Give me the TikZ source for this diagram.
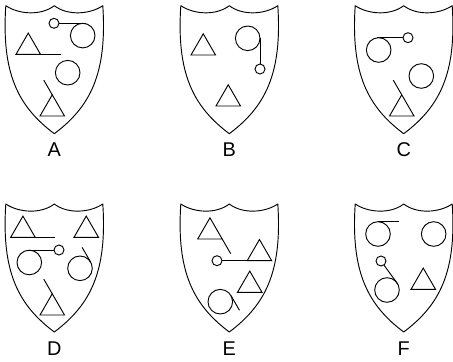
\documentclass[tikz,border=0pt]{standalone}
\usepackage{fontspec}
\setsansfont{Liberation Sans}

\begin{document}
\begin{tikzpicture}[x=0.03cm,y=-0.03cm,font=\sffamily\fontsize{17}{18}\selectfont,
 outline/.style={draw=black,line width=.8pt,line join=round},
 fig/.style={draw=black,line width=.8pt},
 tag/.style={inner sep=0pt,anchor=center}]
\path[use as bounding box] (0,0) rectangle (453,361);
% Shields and their letters
\foreach \x/\y/\lbl in {54.3/5.7/A,229.3/5.7/B,403.7/5.7/C,54.3/204/D,229.3/204/E,403.7/204/F} {
 \draw[outline,shift={(\x,\y)}] (-48.5,0) .. controls (-35,9) and (-13,10) .. (0,0)
   .. controls (13,10) and (35,9) .. (48.5,0)
   .. controls (53,68) and (36,101) .. (0,128)
   .. controls (-36,101) and (-53,68) .. cycle;
 \node[tag] (lab\lbl) at (\x,\y+144.3) {\lbl};
}

% A
\draw[fig] (54,23.3) circle[radius=5];
\draw[fig] (59,23.3) -- (86,23.3);
\draw[fig] (82.7,35.6) circle[radius=12.3];
\draw[fig] (16,54.3) -- ++(24.5,0) -- ++(-12.25,-21.2) -- cycle;
\draw[fig] (40.5,54.3) -- (61,54.3);
\draw[fig] (67.7,72.7) circle[radius=12.3];
\draw[fig] (40,116) -- ++(24.5,0) -- ++(-12.25,-21.2) -- cycle;
\draw[fig] (52.25,94.8) -- (43.75,80.1);

% B
\draw[fig] (191,55) -- ++(24.5,0) -- ++(-12.25,-21.2) -- cycle;
\draw[fig] (247.7,38.3) circle[radius=12.3];
\draw[fig] (260,38.3) -- (260,64);
\draw[fig] (260,69) circle[radius=5];
\draw[fig] (216,106) -- ++(24.5,0) -- ++(-12.25,-21.2) -- cycle;

% C
\draw[fig] (378.7,50) circle[radius=12.3];
\draw[fig] (377,37.7) -- (403,37.7);
\draw[fig] (408,37.7) circle[radius=5];
\draw[fig] (421.3,76) circle[radius=12.3];
\draw[fig] (389.5,116) -- ++(24.5,0) -- ++(-12.25,-21.2) -- cycle;
\draw[fig] (401.75,94.8) -- (393.25,80.1);

% D
\draw[fig] (10.7,237.3) -- ++(24.5,0) -- ++(-12.25,-21.2) -- cycle;
\draw[fig] (35.2,237.3) -- (55,237.3);
\draw[fig] (74,237.3) -- ++(24.5,0) -- ++(-12.25,-21.2) -- cycle;
\draw[fig] (59,250) circle[radius=5];
\draw[fig] (27.5,250) -- (54,250);
\draw[fig] (29.3,262.5) circle[radius=12.3];
\draw[fig] (80,268.3) circle[radius=12.3];
\draw[fig] (90.65,262.15) -- (82.15,247.4);
\draw[fig] (40,315) -- ++(24.5,0) -- ++(-12.25,-21.2) -- cycle;
\draw[fig] (52.25,293.8) -- (43.75,279.1);

% E
\draw[fig] (197.7,239) -- ++(24.5,0) -- ++(-12.25,-21.2) -- cycle;
\draw[fig] (222.2,239) -- (230.7,253.7);
\draw[fig] (217,260.7) circle[radius=5];
\draw[fig] (222,260.7) -- (271.7,260.7);
\draw[fig] (247.2,260.7) -- ++(24.5,0) -- ++(-12.25,-21.2) -- cycle;
\draw[fig] (237.5,292.3) -- ++(24.5,0) -- ++(-12.25,-21.2) -- cycle;
\draw[fig] (220.3,301.7) circle[radius=12.3];
\draw[fig] (230.95,295.55) -- (239.5,310.3);

% F
\draw[fig] (378,234) circle[radius=12.3];
\draw[fig] (378,221.7) -- (398.7,221.7);
\draw[fig] (433.7,234) circle[radius=12.3];
\draw[fig] (381,261) circle[radius=5];
\draw[fig] (383.9,265) -- (397.65,283.85);
\draw[fig] (387,290) circle[radius=12.3];
\draw[fig] (411,289.3) -- ++(24.5,0) -- ++(-12.25,-21.2) -- cycle;
\end{tikzpicture}
\end{document}
